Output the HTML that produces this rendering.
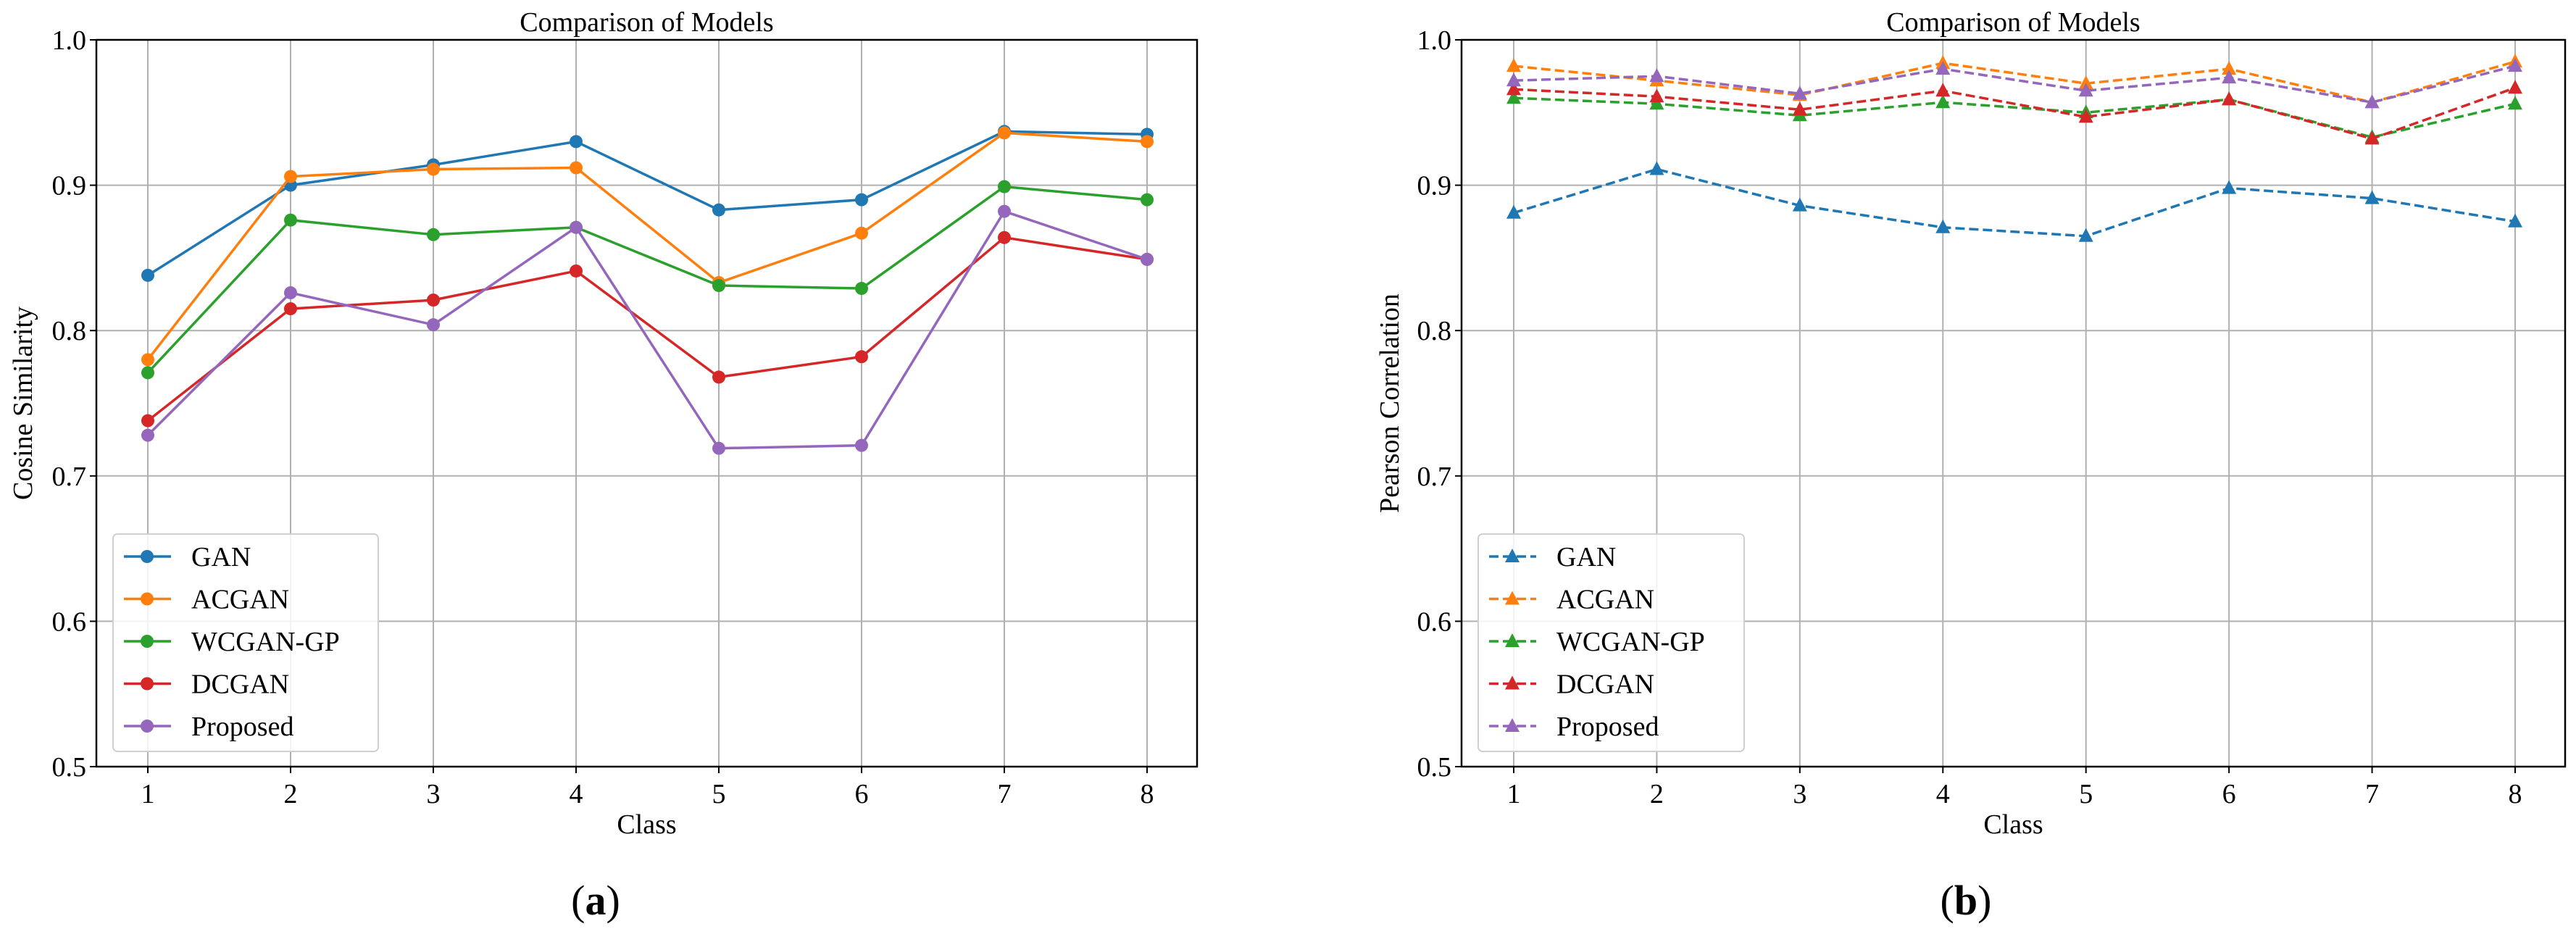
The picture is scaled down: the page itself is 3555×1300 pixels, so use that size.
<!DOCTYPE html>
<html><head><meta charset="utf-8"><style>
html,body{margin:0;padding:0;background:#fff;}
svg{display:block;font-family:"Liberation Serif",serif;}
</style></head><body>
<svg id="fig" width="3555" height="1300" viewBox="0 0 3555 1300"></svg>
<script>
const categories=[1,2,3,4,5,6,7,8];
const yTicks=[0.5,0.6,0.7,0.8,0.9,1.0];
const yTickLabels=["0.5","0.6","0.7","0.8","0.9","1.0"];
const seriesNames=["GAN","ACGAN","WCGAN-GP","DCGAN","Proposed"];
const colors=["#1f77b4","#ff7f0e","#2ca02c","#d62728","#9467bd"];
const cosGAN=[0.838,0.900,0.914,0.930,0.883,0.890,0.937,0.935];
const cosACGAN=[0.780,0.906,0.911,0.912,0.833,0.867,0.936,0.930];
const cosWCGAN=[0.771,0.876,0.866,0.871,0.831,0.829,0.899,0.890];
const cosDCGAN=[0.738,0.815,0.821,0.841,0.768,0.782,0.864,0.849];
const cosProposed=[0.728,0.826,0.804,0.871,0.719,0.721,0.882,0.849];
const pearGAN=[0.881,0.911,0.886,0.871,0.865,0.898,0.891,0.875];
const pearACGAN=[0.982,0.972,0.962,0.984,0.970,0.980,0.957,0.985];
const pearWCGAN=[0.960,0.956,0.948,0.957,0.950,0.959,0.933,0.956];
const pearDCGAN=[0.966,0.961,0.952,0.965,0.947,0.959,0.932,0.967];
const pearProposed=[0.972,0.975,0.963,0.980,0.965,0.974,0.957,0.982];

const NS="http://www.w3.org/2000/svg";
const svg=document.getElementById("fig");
function mk(tag,attrs,parent){const e=document.createElementNS(NS,tag);for(const k in attrs)e.setAttribute(k,attrs[k]);(parent||svg).appendChild(e);return e;}

function panel(cfg){
  const g=mk("g",{});
  
  
  const L=cfg.L,R=cfg.R,T=55,B=1058;
  const xS=v=>cfg.x1+(v-1)*(cfg.x8-cfg.x1)/7;
  const yS=v=>B-(v-0.5)/0.5*(B-T);
  // grid
  categories.forEach(c=>{const l=mk("line",{x1:xS(c),x2:xS(c),y1:T,y2:B,stroke:"#b0b0b0","stroke-width":2},g);
    });
  yTicks.forEach(v=>{const l=mk("line",{x1:L,x2:R,y1:yS(v),y2:yS(v),stroke:"#b0b0b0","stroke-width":2},g);
    });
  // ticks & labels
  categories.forEach(c=>{mk("line",{x1:xS(c),x2:xS(c),y1:B,y2:B+9,stroke:"#000","stroke-width":2},g);
    const t=mk("text",{x:xS(c),y:B+50,"text-anchor":"middle","font-size":38},g);t.textContent=c;
    });
  yTicks.forEach((v,i)=>{mk("line",{x1:L-9,x2:L,y1:yS(v),y2:yS(v),stroke:"#000","stroke-width":2},g);
    const t=mk("text",{x:L-14,y:yS(v)+13,"text-anchor":"end","font-size":38},g);t.textContent=yTickLabels[i];
    });
  // series
  cfg.data.forEach((arr,si)=>{
    const sg=mk("g",{},g);
    
    
    const pts=arr.map((v,i)=>xS(categories[i])+","+yS(v)).join(" ");
    const attrs={points:pts,fill:"none",stroke:colors[si],"stroke-width":3.5};
    if(cfg.dashed)attrs["stroke-dasharray"]="13,6";
    mk("polyline",attrs,sg);
    arr.forEach((v,i)=>{
      const x=xS(categories[i]),y=yS(v);
      let m;
      if(cfg.dashed)m=mk("polygon",{points:`${x},${y-11} ${x-10},${y+8} ${x+10},${y+8}`,fill:colors[si]},sg);
      else m=mk("circle",{cx:x,cy:y,r:9,fill:colors[si]},sg);
      
    });
  });
  // frame
  mk("rect",{x:L,y:T,width:R-L,height:B-T,fill:"none",stroke:"#000","stroke-width":2.5},g);
  // title & labels
  const tt=mk("text",{x:(L+R)/2,y:T-12,"text-anchor":"middle","font-size":38},g);tt.textContent="Comparison of Models";
  
  const xl=mk("text",{x:(L+R)/2,y:1150,"text-anchor":"middle","font-size":38},g);xl.textContent="Class";
  
  const yl=mk("text",{x:0,y:0,"text-anchor":"middle","font-size":38,transform:`translate(${cfg.ylx},${(T+B)/2}) rotate(-90)`},g);yl.textContent=cfg.ylabel;
  
  const cap=mk("text",{x:cfg.capx,y:1262,"text-anchor":"middle","font-size":58},g);
  cap.innerHTML='(<tspan font-weight="bold">'+cfg.cap+'</tspan>)';
  
  // legend
  const lg=mk("g",{},g);
  
  mk("rect",{x:cfg.legX,y:737,width:cfg.legW,height:300,rx:6,fill:"#fff","fill-opacity":0.85,stroke:"#d0d0d0","stroke-width":2},lg);
  seriesNames.forEach((n,i)=>{
    const ey=768+i*58.5;
    const eg=mk("g",{},lg);
    
    const la={x1:cfg.legX+15,x2:cfg.legX+80,y1:ey,y2:ey,stroke:colors[i],"stroke-width":3.5};
    if(cfg.dashed)la["stroke-dasharray"]="13,6";
    mk("line",la,eg);
    const cx=cfg.legX+47;
    if(cfg.dashed)mk("polygon",{points:`${cx},${ey-11} ${cx-10},${ey+8} ${cx+10},${ey+8}`,fill:colors[i]},eg);
    else mk("circle",{cx:cx,cy:ey,r:9,fill:colors[i]},eg);
    const t=mk("text",{x:cfg.legX+108,y:ey+13,"font-size":38},eg);t.textContent=n;
  });
}
panel({name:"cosine-similarity-chart",L:133,R:1652,x1:204,x8:1583,ylabel:"Cosine Similarity",ylx:44,capx:822,cap:"a",
  legX:156,legW:366,dashed:false,data:[cosGAN,cosACGAN,cosWCGAN,cosDCGAN,cosProposed]});
panel({name:"pearson-correlation-chart",L:2017,R:3540,x1:2089,x8:3471,ylabel:"Pearson Correlation",ylx:1930,capx:2713,cap:"b",
  legX:2040,legW:367,dashed:true,data:[pearGAN,pearACGAN,pearWCGAN,pearDCGAN,pearProposed]});
</script>
</body></html>
